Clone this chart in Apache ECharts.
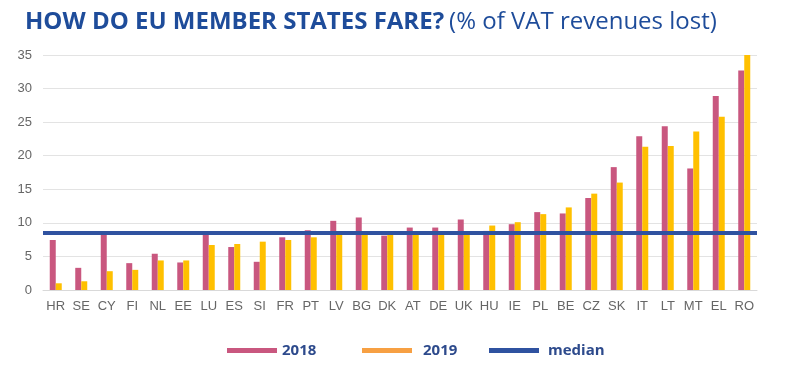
<!DOCTYPE html>
<html><head><meta charset="utf-8">
<script src="https://cdn.jsdelivr.net/npm/echarts@6/dist/echarts.min.js"></script>
<style>html,body{margin:0;padding:0;background:#fff}#c{width:800px;height:368px}</style>
</head><body><div id="c"></div>
<script>
const categories = ['HR','SE','CY','FI','NL','EE','LU','ES','SI','FR','PT','LV','BG','DK','AT','DE','UK','HU','IE','PL','BE','CZ','SK','IT','LT','MT','EL','RO'];
const values2018 = [7.45,3.3,8.6,4.0,5.4,4.1,8.5,6.4,4.2,7.85,8.9,10.3,10.8,8.1,9.3,9.3,10.5,8.8,9.8,11.6,11.4,13.7,18.3,22.9,24.4,18.1,28.9,32.7];
const values2019 = [1.0,1.3,2.8,3.0,4.4,4.4,6.7,6.85,7.2,7.45,7.85,8.3,8.3,8.3,8.3,8.3,8.4,9.6,10.1,11.3,12.3,14.35,16.0,21.35,21.45,23.6,25.8,35.0];
const medianValue = 8.5;
const yTicks = [0,5,10,15,20,25,30,35];

const chart = echarts.init(document.getElementById('c'));
const legendText = {fontFamily:'Open Sans', fontWeight:'bold', fontSize:15, color:'#2D4A8C'};
chart.setOption({
  animation:false,
  title:{
    left:20, top:5,
    text:'{a|HOW DO EU MEMBER STATES FARE?} {b|(% of VAT revenues lost)}',
    textStyle:{rich:{
      a:{fontFamily:'Open Sans', fontWeight:'bold', fontSize:24, color:'#1E4C9A'},
      b:{fontFamily:'Open Sans', fontWeight:'normal', fontSize:24, color:'#1E4C9A'}
    }}
  },
  legend:[
    {data:['2018'], left:222, top:338, icon:'rect', itemWidth:50, itemHeight:5, textStyle:legendText},
    {data:[{name:'2019', itemStyle:{color:'#F7A043'}}], left:357, top:338, icon:'rect', itemWidth:50, itemHeight:5, textStyle:Object.assign({}, legendText, {padding:[0,0,0,6]})},
    {data:['median'], left:484, top:338, icon:'rect', itemWidth:50, itemHeight:5, textStyle:Object.assign({}, legendText, {padding:[0,0,0,4]})}
  ],
  grid:{left:43, right:43, top:55, bottom:78},
  xAxis:{
    type:'category', data:categories,
    axisLine:{show:true, lineStyle:{color:'#D9D9D9'}},
    axisTick:{show:false},
    axisLabel:{color:'#666', fontFamily:'Liberation Sans', fontSize:13, margin:10, interval:0}
  },
  yAxis:{
    type:'value', min:yTicks[0], max:yTicks[yTicks.length-1], interval:5,
    axisLine:{show:false}, axisTick:{show:false},
    axisLabel:{color:'#666', fontFamily:'Liberation Sans', fontSize:13, margin:11},
    splitLine:{lineStyle:{color:'#E3E3E3'}}
  },
  series:[
    {name:'2018', type:'bar', data:values2018, barWidth:6, barGap:'0%', itemStyle:{color:'#C9577F'}},
    {name:'2019', type:'bar', data:values2019, barWidth:6, itemStyle:{color:'#FFC000'}},
    {name:'median', type:'line', data:[], z:10, itemStyle:{color:'#2F52A0'}, lineStyle:{color:'#2F52A0'},
     markLine:{silent:true, symbol:'none', label:{show:false}, lineStyle:{color:'#2F52A0', width:4, type:'solid'},
       data:[{yAxis:medianValue}]}}
  ]
});
</script></body></html>
